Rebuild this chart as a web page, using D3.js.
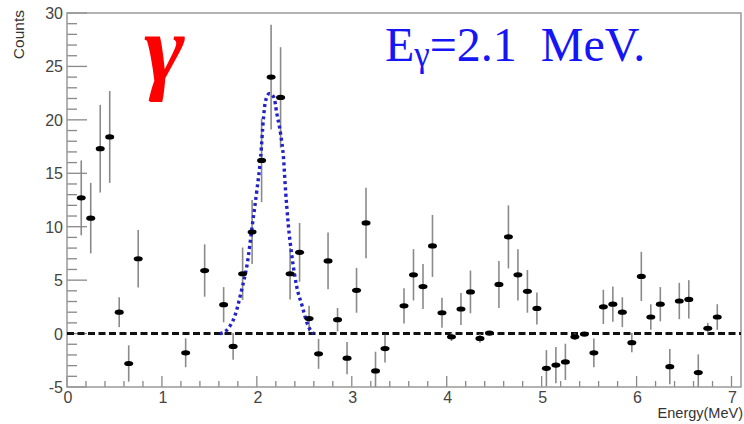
<!DOCTYPE html>
<html>
<head>
<meta charset="utf-8">
<script src="https://cdn.jsdelivr.net/npm/d3@7"></script>
<style>
  body { margin: 0; background: #fff; }
  svg { display: block; }
</style>
</head>
<body>
<svg></svg>
<script>
// bin centres (MeV), counts and errors
var energy = [0.15, 0.25, 0.35, 0.45, 0.55, 0.65, 0.75, 1.25, 1.45, 1.65, 1.75, 1.85, 1.95, 2.05, 2.15, 2.25, 2.35, 2.45, 2.55, 2.65,
  2.75, 2.85, 2.95, 3.05, 3.15, 3.25, 3.35, 3.55, 3.65, 3.75, 3.85, 3.95, 4.05, 4.15, 4.25, 4.35, 4.45, 4.55, 4.65, 4.75,
  4.85, 4.95, 5.05, 5.15, 5.25, 5.35, 5.45, 5.55, 5.65, 5.75, 5.85, 5.95, 6.05, 6.15, 6.25, 6.35, 6.45, 6.55, 6.65, 6.75, 6.85]
var counts = [12.7, 10.8, 17.3, 18.4, 2.0, -2.8, 7.0, -1.8, 5.9, 2.7, -1.2, 5.6, 9.5, 16.2, 24.0, 22.1, 5.6, 7.6, 1.4, -1.9,
  6.8, 1.3, -2.3, 4.05, 10.35, -3.5, -1.4, 2.6, 5.5, 4.4, 8.2, 1.95, -0.3, 2.3, 3.9, -0.45, 0.05, 4.6, 9.05, 5.5,
  3.95, 2.35, -3.25, -2.95, -2.65, -0.3, -0.05, -1.8, 2.5, 2.75, 2.0, -0.85, 5.35, 1.55, 2.75, -3.1, 3.05, 3.2, -3.65, 0.5, 1.55]
var errors = [3.5, 3.3, 4.1, 4.3, 1.4, 1.7, 2.7, 1.35, 2.45, 1.65, 1.25, 2.45, 3.0, 3.9, 4.9, 4.7, 2.4, 2.75, 1.2, 1.4,
  2.65, 1.1, 1.5, 2.1, 3.3, 1.8, 1.3, 1.65, 2.4, 2.1, 2.9, 1.4, 0.4, 1.5, 2.0, 0.4, 0.15, 2.2, 2.95, 2.4,
  2.0, 1.5, 1.7, 1.7, 1.7, 0.3, 0.1, 1.35, 1.6, 1.65, 1.4, 0.9, 2.3, 1.2, 1.6, 1.65, 1.7, 1.8, 1.7, 0.5, 1.2]

// fitted peak, points
var fitEnergy = [1.61, 1.66, 1.70, 1.77, 1.84, 1.90, 1.95, 2.00, 2.04, 2.07, 2.09, 2.13, 2.18, 2.21, 2.25, 2.28, 2.30, 2.33, 2.37, 2.42, 2.48, 2.53, 2.57, 2.60]
var fitCounts = [0, 0.15, 0.5, 1.7, 4.1, 6.6, 10.0, 13.4, 16.5, 20.2, 21.7, 22.45, 22.1, 20.6, 18.7, 16.5, 13.7, 10.3, 7.2, 4.4, 2.5, 0.95, 0.25, 0]

var xTicks = [0, 1, 2, 3, 4, 5, 6, 7]
var yTicks = [-5, 0, 5, 10, 15, 20, 25, 30]
var xDomain = [0, 7.1]
var yDomain = [-5, 30]

var width = 744;
var height = 424;
var borders = {
  top: 13,
  right: 3,
  bottom: 37,
  left: 67
}
var sans = "'Liberation Sans', Arial, sans-serif"
var serif = "'Liberation Serif', 'Times New Roman', serif"

var svg = d3.select('svg').attr('width', width).attr('height', height)

var xScale = d3.scaleLinear()
  .range([borders.left, width - borders.right])
  .domain(xDomain)
var yScale = d3.scaleLinear()
  .range([height - borders.bottom, borders.top])
  .domain(yDomain)

svg.append('defs').append('clipPath').attr('id', 'plotArea')
  .append('rect')
  .attr('x', borders.left)
  .attr('y', borders.top)
  .attr('width', width - borders.left - borders.right)
  .attr('height', height - borders.top - borders.bottom)

// ticks (inward, ROOT style)
var yMinor = d3.range(-5, 31, 1)
svg.append('g').selectAll('line')
  .data(yMinor)
  .enter()
  .append('line')
  .attr('x1', borders.left)
  .attr('x2', function(d) { return borders.left + (d % 5 === 0 ? 20 : 10) })
  .attr('y1', function(d) { return yScale(d) })
  .attr('y2', function(d) { return yScale(d) })
  .attr('stroke', '#888')
  .attr('stroke-width', 1.3)

var xMinor = d3.range(0, 36).map(function(i) { return i * 0.2 })
svg.append('g').selectAll('line')
  .data(xMinor)
  .enter()
  .append('line')
  .attr('x1', function(d) { return xScale(d) })
  .attr('x2', function(d) { return xScale(d) })
  .attr('y1', height - borders.bottom)
  .attr('y2', function(d, i) { return height - borders.bottom - (i % 5 === 0 ? 11 : 6) })
  .attr('stroke', '#888')
  .attr('stroke-width', 1.3)

// frame
svg.append('rect')
  .attr('x', borders.left)
  .attr('y', borders.top)
  .attr('width', width - borders.left - borders.right)
  .attr('height', height - borders.top - borders.bottom)
  .attr('fill', 'none')
  .attr('stroke', '#999')
  .attr('stroke-width', 1.5)

svg.append('g').selectAll('text')
  .data(yTicks)
  .enter()
  .append('text')
  .style('font-family', sans)
  .style('font-size', '16px')
  .attr('fill', '#444')
  .attr('text-anchor', 'end')
  .attr('x', borders.left - 4)
  .attr('y', function(d) { return yScale(d) + 6 })
  .text(function(d) { return d })

svg.append('g').selectAll('text')
  .data(xTicks)
  .enter()
  .append('text')
  .style('font-family', sans)
  .style('font-size', '16px')
  .attr('fill', '#444')
  .attr('text-anchor', 'middle')
  .attr('x', function(d) { return xScale(d) + 1 })
  .attr('y', height - borders.bottom + 16)
  .text(function(d) { return d })

svg.append('text')
  .text('Counts')
  .attr('text-anchor', 'end')
  .style('font-family', sans)
  .style('font-size', '15.5px')
  .attr('fill', '#333')
  .attr('transform', 'translate(24,10)rotate(-90)')

svg.append('text')
  .text('Energy(MeV)')
  .attr('text-anchor', 'end')
  .style('font-family', sans)
  .style('font-size', '14.5px')
  .attr('fill', '#333')
  .attr('x', 743)
  .attr('y', 418)

var plot = svg.append('g').attr('clip-path', 'url(#plotArea)')

// zero line
plot.append('line')
  .attr('x1', xScale(xDomain[0]))
  .attr('x2', xScale(xDomain[1]))
  .attr('y1', yScale(0))
  .attr('y2', yScale(0))
  .attr('stroke', '#111')
  .attr('stroke-width', 3)
  .attr('stroke-dasharray', '7,3.5')

var points = energy.map(function(e, i) { return [e, counts[i], errors[i]] })

plot.append('g').selectAll('line')
  .data(points)
  .enter()
  .append('line')
  .attr('x1', function(d) { return xScale(d[0]) })
  .attr('x2', function(d) { return xScale(d[0]) })
  .attr('y1', function(d) { return yScale(d[1] + d[2]) })
  .attr('y2', function(d) { return yScale(d[1] - d[2]) })
  .attr('stroke', '#8a8a8a')
  .attr('stroke-width', 1.6)

// fit curve
var fitLine = d3.line()
  .x(function(d) { return xScale(d[0]) })
  .y(function(d) { return yScale(d[1]) })
  .curve(d3.curveMonotoneX)

plot.append('path')
  .datum(fitEnergy.map(function(e, i) { return [e, fitCounts[i]] }))
  .attr('d', fitLine)
  .attr('fill', 'none')
  .attr('stroke', '#2222c8')
  .attr('stroke-width', 3.4)
  .attr('stroke-dasharray', '3,3.2')

plot.append('g').selectAll('ellipse')
  .data(points)
  .enter()
  .append('ellipse')
  .attr('cx', function(d) { return xScale(d[0]) })
  .attr('cy', function(d) { return yScale(d[1]) })
  .attr('rx', 4.5)
  .attr('ry', 2.6)
  .attr('fill', '#000')

// annotations
svg.append('text')
  .text('\u03b3')
  .style('font-family', serif)
  .style('font-style', 'italic')
  .style('font-weight', 'bold')
  .style('font-size', '98px')
  .attr('fill', '#f00')
  .attr('x', 144)
  .attr('y', 81)

var label = svg.append('text')
  .style('font-family', serif)
  .attr('fill', '#1515f5')
  .attr('x', 385)
  .attr('y', 61)
label.append('tspan').style('font-size', '48px').text('E')
label.append('tspan').style('font-size', '35px').attr('dy', 5).text('\u03b3')
label.append('tspan').style('font-size', '48px').attr('dy', -5).text('=2.1\u00a0\u00a0MeV.')
</script>
</body>
</html>
